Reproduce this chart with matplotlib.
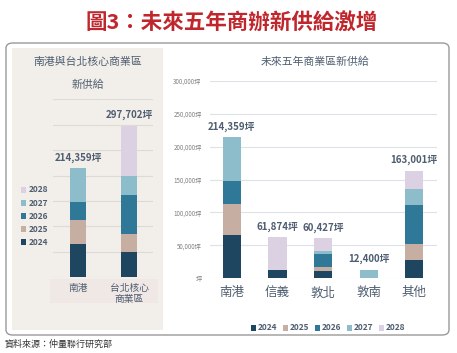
import numpy as np
import matplotlib
matplotlib.use('Agg')
import matplotlib.pyplot as plt
from matplotlib.patches import FancyBboxPatch, Rectangle

plt.rcParams['font.family'] = ['Noto Sans CJK TC', 'DejaVu Sans']

# data (ping)
years = ['2024', '2025', '2026', '2027', '2028']
colors = ['#1e4660', '#c6aea3', '#2f7898', '#8dbccb', '#dcd0e3']

left_cats = ['南港', '台北核心\n商業區']
left_2024 = [65000, 49700]
left_2025 = [47000, 34800]
left_2026 = [35600, 76700]
left_2027 = [66759, 38000]
left_2028 = [0, 98502]
left_totals = [214359, 297702]

right_cats = ['南港', '信義', '敦北', '敦南', '其他']
right_2024 = [65000, 12200, 10700, 0, 27400]
right_2025 = [47000, 0, 6000, 0, 24900]
right_2026 = [35600, 0, 20000, 0, 58500]
right_2027 = [66759, 0, 4000, 12400, 24400]
right_2028 = [0, 49674, 19727, 0, 27801]
right_totals = [214359, 61874, 60427, 12400, 163001]

W, H = 457, 353
fig = plt.figure(figsize=(W / 100, H / 100), dpi=100, facecolor='white')


# helper: pixel box -> figure axes rect
def px_rect(left, top, right, bottom):
    return [left / W, 1 - bottom / H, (right - left) / W, (bottom - top) / H]


def fmt(v):
    return f'{v:,}坪'


# frame and beige panel (behind the axes)
frame = FancyBboxPatch((6 / W, 1 - 335 / H), 443 / W, 292 / H,
                       boxstyle='round,pad=0,rounding_size=0.015',
                       transform=fig.transFigure, facecolor='white',
                       edgecolor='#9a9a9a', lw=1.0, zorder=-10)
fig.patches.append(frame)
fig.patches.append(Rectangle((12 / W, 1 - 330 / H), 151 / W, 282 / H,
                             transform=fig.transFigure, facecolor='#f2eee9',
                             edgecolor='none', zorder=-9))
fig.patches.append(Rectangle((50 / W, 1 - 303 / H), 108 / W, 24 / H,
                             transform=fig.transFigure, facecolor='#efe8e5',
                             edgecolor='none', zorder=-8))

# titles
fig.text(232 / W, 1 - 22 / H, '圖3：未來五年商辦新供給激增', ha='center', va='center',
         fontsize=15.5, fontweight='bold', color='#c0272d')
fig.text(88 / W, 1 - 62 / H, '南港與台北核心商業區', ha='center', va='center',
         fontsize=7.8, color='#4e5d70')
fig.text(88 / W, 1 - 85 / H, '新供給', ha='center', va='center',
         fontsize=7.8, color='#4e5d70')
fig.text(315 / W, 1 - 62 / H, '未來五年商業區新供給', ha='center', va='center',
         fontsize=7.8, color='#4e5d70')
fig.text(5 / W, 1 - 344 / H, '資料來源：仲量聯行研究部', ha='left', va='center',
         fontsize=6.5, color='#333333')


def stack(ax, x, series, width):
    bottom = np.zeros(len(x))
    handles = []
    for vals, c, y in zip(series, colors, years):
        h = ax.bar(x, vals, width, bottom=bottom, color=c, label=y, linewidth=0)
        handles.append(h)
        bottom += np.array(vals)
    return handles


# left chart
axl = fig.add_axes(px_rect(53, 99.3, 153, 277.3))
axl.set_facecolor('none')
xl = np.arange(len(left_cats))
hl = stack(axl, xl, [left_2024, left_2025, left_2026, left_2027, left_2028], 0.33)
axl.set_xlim(-0.49, 1.47)
axl.set_ylim(0, 350000)
axl.set_yticks(np.arange(0, 350001, 50000))
axl.yaxis.grid(True, color='#dedad5', lw=0.8)
axl.set_axisbelow(True)
axl.tick_params(axis='y', left=False, labelleft=False)
axl.tick_params(axis='x', length=0, pad=4)
axl.set_xticks(xl)
axl.set_xticklabels(left_cats, fontsize=7, color='#4e5d70', linespacing=1.15)
for s in axl.spines.values():
    s.set_visible(False)
for x, t in zip(xl, left_totals):
    axl.annotate(fmt(t), (x, t), xytext=(0, 4), textcoords='offset points',
                 ha='center', va='bottom', fontsize=7, fontweight='bold',
                 color='#4e5d70')
leg_l = fig.legend(handles=hl[::-1], labels=years[::-1], loc='upper left',
                   bbox_to_anchor=(13 / W, 1 - 178 / H), frameon=False,
                   fontsize=6, handlelength=0.7, handleheight=0.7,
                   handletextpad=0.3, labelspacing=0.5)
for t in leg_l.get_texts():
    t.set_color('#4e5d70')
    t.set_fontweight('bold')

# right chart
axr = fig.add_axes(px_rect(210, 81, 437, 278))
axr.set_facecolor('none')
xr = np.arange(len(right_cats))
hr = stack(axr, xr, [right_2024, right_2025, right_2026, right_2027, right_2028], 0.4)
axr.set_xlim(-0.48, 4.5)
axr.set_ylim(0, 300000)
yt = np.arange(0, 300001, 50000)
axr.set_yticks(yt)
axr.set_yticklabels([fmt(v) if v else '坪' for v in yt], fontsize=4.5,
                    color='#808080')
axr.yaxis.grid(True, color='#dde2e8', lw=0.8)
axr.set_axisbelow(True)
axr.tick_params(axis='y', length=0, pad=6)
axr.tick_params(axis='x', length=0, pad=6)
axr.set_xticks(xr)
axr.set_xticklabels(right_cats, fontsize=9, color='#4e5d70')
for s in axr.spines.values():
    s.set_visible(False)
for x, t in zip(xr, right_totals):
    axr.annotate(fmt(t), (x, t), xytext=(0, 4), textcoords='offset points',
                 ha='center', va='bottom', fontsize=7, fontweight='bold',
                 color='#4e5d70')
leg_r = fig.legend(handles=hr, labels=years, loc='center',
                   bbox_to_anchor=(328 / W, 1 - 328 / H), ncol=5, frameon=False,
                   fontsize=6, handlelength=0.7, handleheight=0.7,
                   handletextpad=0.2, columnspacing=0.6)
for t in leg_r.get_texts():
    t.set_color('#4e5d70')
    t.set_fontweight('bold')

fig.savefig('out.png', dpi=100, facecolor='white')
